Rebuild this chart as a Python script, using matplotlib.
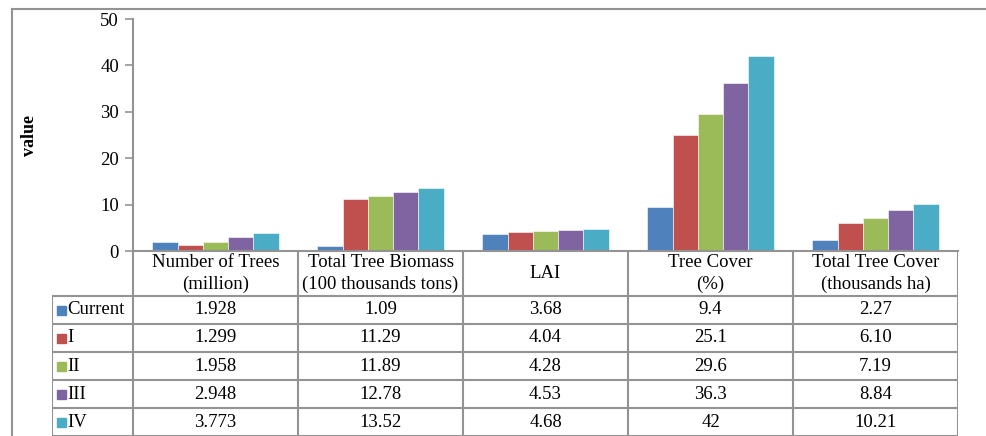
import matplotlib.pyplot as plt
import numpy as np

plt.rcParams['font.family'] = ['Liberation Serif', 'DejaVu Serif']

categories = ["Number of Trees\n(million)", "Total Tree Biomass\n(100 thousands tons)",
              "LAI", "Tree Cover\n(%)", "Total Tree Cover\n(thousands ha)"]
series = ["Current", "I", "II", "III", "IV"]
current = [1.928, 1.09, 3.68, 9.4, 2.27]
s1 = [1.299, 11.29, 4.04, 25.1, 6.10]
s2 = [1.958, 11.89, 4.28, 29.6, 7.19]
s3 = [2.948, 12.78, 4.53, 36.3, 8.84]
s4 = [3.773, 13.52, 4.68, 42, 10.21]
labels = [["1.928", "1.09", "3.68", "9.4", "2.27"],
          ["1.299", "11.29", "4.04", "25.1", "6.10"],
          ["1.958", "11.89", "4.28", "29.6", "7.19"],
          ["2.948", "12.78", "4.53", "36.3", "8.84"],
          ["3.773", "13.52", "4.68", "42", "10.21"]]
colors = ["#4F81BD", "#C0504D", "#9BBB59", "#8064A2", "#4BACC6"]

W, H = 986, 436
fig = plt.figure(figsize=(W / 100, H / 100), dpi=100)

gray = "#939393"
fs = 13.5

# outer frame
fig.add_artist(plt.Line2D([12 / W, 1], [1 - 9 / H, 1 - 9 / H], color=gray, lw=1.5))
fig.add_artist(plt.Line2D([12 / W, 12 / W], [0, 1 - 9 / H], color=gray, lw=1.5))

ax = fig.add_axes([133 / W, 185 / H, (958 - 133) / W, (417 - 185) / H])
x = np.arange(len(categories))
bw = 0.153
data = [current, s1, s2, s3, s4]
for i, vals in enumerate(data):
    ax.bar(x + (i - 2) * bw, vals, bw, color=colors[i], edgecolor="white", linewidth=0.4)
ax.set_xlim(-0.5, 4.5)
ax.set_ylim(0, 50)
ax.set_yticks([0, 10, 20, 30, 40, 50])
ax.set_xticks([])
for s in ["top", "right"]:
    ax.spines[s].set_visible(False)
for s in ["left", "bottom"]:
    ax.spines[s].set_color(gray)
    ax.spines[s].set_linewidth(1.5)
ax.tick_params(axis="y", direction="out", length=6, width=1.2, color=gray, labelsize=fs, pad=4)
ax.set_ylabel("value", fontsize=13, fontweight="bold", labelpad=45)

# data table below
tx = fig.add_axes([52 / W, 0, (958 - 52) / W, 185 / H])
unit = (958 - 133) / 5
left = -0.5 - (133 - 52) / unit
tx.set_xlim(left, 4.5)
tx.set_ylim(0, 185)
tx.axis("off")
row_h = 28
head_h = 45
lk = dict(color=gray, lw=1.5, solid_capstyle="butt")
# horizontal lines
for r in range(6):
    yy = r * row_h
    tx.plot([left, 4.5], [yy, yy], **lk)
# vertical lines
tx.plot([left, left], [0, 5 * row_h], **lk)
for c in range(6):
    xx = -0.5 + c
    tx.plot([xx, xx], [0, 185], **lk)
for c, cat in enumerate(categories):
    tx.text(c, 5 * row_h + head_h / 2, cat, ha="center", va="center", fontsize=fs, linespacing=1.3)
for r in range(5):
    yc = (4 - r) * row_h + row_h / 2
    tx.add_patch(plt.Rectangle((left + 0.03, yc - 4.5), 0.055, 9, color=colors[r], transform=tx.transData))
    tx.text(left + 0.095, yc, series[r], ha="left", va="center", fontsize=fs)
    for c in range(5):
        tx.text(c, yc, labels[r][c], ha="center", va="center", fontsize=fs)

fig.savefig("out.png", dpi=100)
